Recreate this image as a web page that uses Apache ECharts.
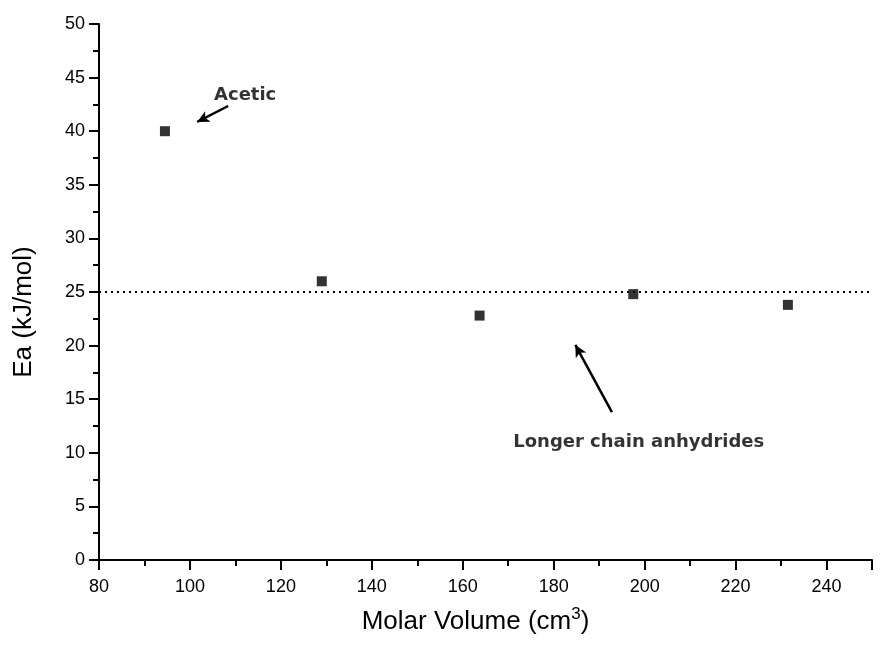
<!DOCTYPE html>
<html>
<head>
<meta charset="utf-8">
<script src="https://cdn.jsdelivr.net/npm/echarts@6/dist/echarts.min.js"></script>
<style>
  html, body { margin: 0; padding: 0; background: #fff; }
  #chart { width: 885px; height: 657px; }
</style>
</head>
<body>
<div id="chart"></div>
<script>
// Activation energy against molar volume of the anhydrides
const molarVolume = [94.5, 129, 163.7, 197.5, 231.5];
const activationEnergy = [40, 26, 22.8, 24.8, 23.8];
const averageEa = 25;

const xTicks = { min: 80, max: 250, interval: 20 };
const yTicks = { min: 0, max: 50, interval: 5 };

// Annotation anchors in data units: [text position], [arrow tail], [arrow head]
const aceticNote = { text: 'Acetic', at: [105.3, 43.3], tail: [108.4, 42.35], head: [101.6, 40.86] };
const chainNote = { text: 'Longer chain anhydrides', at: [171.1, 11.0], tail: [192.8, 13.8], head: [184.75, 20.06] };

const FONT = '"Liberation Sans", Arial, sans-serif';
const NOTE_FONT = '"DejaVu Sans", sans-serif';
const chart = echarts.init(document.getElementById('chart'));

const axisCommon = {
  axisLine: { show: true, lineStyle: { color: '#000', width: 2 } },
  axisTick: { show: true, inside: false, length: 10, lineStyle: { color: '#000', width: 2 } },
  minorTick: { show: true, splitNumber: 2, length: 6, lineStyle: { color: '#000', width: 2 } },
  splitLine: { show: false },
  axisLabel: { color: '#000', fontFamily: FONT, fontSize: 18 }
};

chart.setOption({
  backgroundColor: '#fff',
  animation: false,
  grid: { left: 99, right: 13, top: 24, bottom: 97, containLabel: false },
  xAxis: Object.assign({}, axisCommon, {
    type: 'value',
    min: xTicks.min, max: xTicks.max, interval: xTicks.interval,
    axisLabel: Object.assign({}, axisCommon.axisLabel, {
      margin: 18,
      formatter: v => (v > 240 ? '' : String(v))
    }),
    name: 'Molar Volume (cm{sup|3})',
    nameLocation: 'middle',
    nameGap: 46,
    nameTextStyle: {
      color: '#000', fontFamily: FONT, fontSize: 26,
      padding: [0, 20, 0, 0],
      rich: { sup: { fontSize: 17, verticalAlign: 'bottom', padding: [0, 0, 14, 0], color: '#000', fontFamily: FONT } }
    }
  }),
  yAxis: Object.assign({}, axisCommon, {
    type: 'value',
    min: yTicks.min, max: yTicks.max, interval: yTicks.interval,
    axisLabel: Object.assign({}, axisCommon.axisLabel, { margin: 14 }),
    name: 'Ea (kJ/mol)',
    nameLocation: 'middle',
    nameGap: 62,
    nameRotate: 90,
    nameTextStyle: { color: '#000', fontFamily: FONT, fontSize: 26, padding: [0, 40, 0, 0] }
  }),
  series: [
    {
      type: 'scatter',
      data: molarVolume.map((x, i) => [x, activationEnergy[i]]),
      symbol: 'rect',
      symbolSize: 10,
      itemStyle: { color: '#000' },
      z: 5,
      markLine: {
        silent: true,
        symbol: ['none', 'none'],
        label: { show: false },
        lineStyle: { color: '#000', width: 1.8, type: [2, 4] },
        data: [{ yAxis: averageEa }]
      }
    },
    {
      // arrows pointing at the marks
      type: 'line',
      data: [],
      markLine: {
        silent: true,
        symbol: ['none', 'arrow'],
        symbolSize: [9, 12],
        label: { show: false },
        lineStyle: { color: '#000', width: 2.5, type: 'solid' },
        data: [
          [{ coord: aceticNote.tail }, { coord: aceticNote.head }],
          [{ coord: chainNote.tail }, { coord: chainNote.head }]
        ]
      }
    },
    {
      // annotation text
      type: 'scatter',
      symbolSize: 0,
      silent: true,
      data: [
        { value: aceticNote.at, name: aceticNote.text },
        { value: chainNote.at, name: chainNote.text }
      ],
      label: {
        show: true,
        position: 'right',
        distance: 0,
        formatter: p => p.name,
        color: '#000',
        fontFamily: NOTE_FONT,
        fontWeight: 'bold',
        fontSize: 18
      }
    }
  ]
});
</script>
</body>
</html>
